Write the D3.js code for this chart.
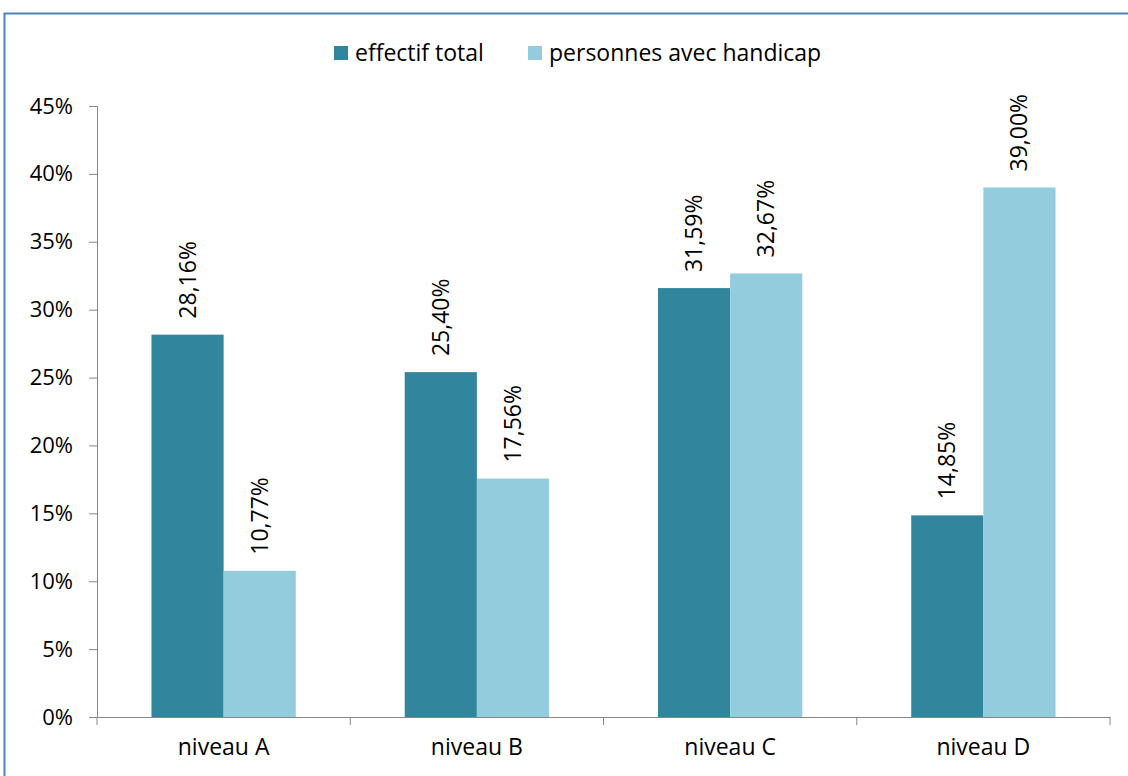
<!DOCTYPE html>
<html lang="fr">
<head>
<meta charset="UTF-8">
<title>Niveaux</title>
<script src="https://cdn.jsdelivr.net/npm/d3@7"></script>
<style>
body{margin:0;background:#fff}
text{font-family:"Open Sans",sans-serif;fill:#000}
</style>
</head>
<body>
<svg width="1128" height="776"></svg>
<script>
var categories=['niveau A','niveau B','niveau C','niveau D']
var seriesNames=['effectif total','personnes avec handicap']
var effectifTotal=[28.16,25.40,31.59,14.85]
var personnesHandicap=[10.77,17.56,32.67,39.00]
var yTicks=[0,5,10,15,20,25,30,35,40,45]
var colors=['#31859c','#93cddd']

var width=1128,height=776,margin={top:106,right:18,bottom:59,left:97}
var svg=d3.select('svg')

// cadre
svg.append('rect').attr('x',4.5).attr('y',13.5).attr('width',1140).attr('height',800)
  .attr('fill','none').attr('stroke','#4f81bd').attr('stroke-width',2)

var data=categories.map((c,i)=>({cat:c,values:[effectifTotal[i],personnesHandicap[i]]}))

var x=d3.scaleBand().domain(categories).range([margin.left,width-margin.right]).padding(0)
var x1=d3.scaleBand().domain([0,1]).range([0,x.bandwidth()]).paddingInner(0).paddingOuter(0.755)
var y=d3.scaleLinear().domain([0,45]).range([height-margin.bottom,margin.top])

// axe Y
var yAxis=g=>g.attr('transform',`translate(${margin.left},0)`)
  .call(d3.axisLeft(y).tickValues(yTicks).tickFormat(d=>d+'%').tickSize(8).tickPadding(16))
svg.append('g').call(yAxis).call(g=>{
  g.selectAll('path,line').attr('stroke','#868686')
  g.selectAll('text').style('font-size','22px')
})

var groups=svg.append('g').selectAll('g').data(data).join('g')
  .attr('transform',d=>`translate(${x(d.cat)},0)`)

groups.selectAll('rect').data(d=>d.values).join('rect')
  .attr('x',(d,i)=>x1(i)).attr('width',x1.bandwidth())
  .attr('y',d=>y(d)).attr('height',d=>y(0)-y(d))
  .attr('fill',(d,i)=>colors[i])

groups.selectAll('text.lbl').data(d=>d.values).join('text').attr('class','lbl')
  .attr('transform',(d,i)=>`translate(${x1(i)+x1.bandwidth()/2+8},${y(d)-16}) rotate(-90)`)
  .style('font-size','23px')
  .text(d=>d.toFixed(2).replace('.',',')+'%')

// axe X
var xAxis=g=>g.attr('transform',`translate(0,${height-margin.bottom})`)
  .call(d3.axisBottom(x).tickSize(0).tickPadding(22).tickSizeOuter(0))
svg.append('g').call(xAxis).call(g=>{
  g.select('.domain').attr('stroke','#868686')
  g.selectAll('text').style('font-size','23px')
})
// graduations entre catégories
svg.append('g').selectAll('line').data(d3.range(categories.length+1)).join('line')
  .attr('x1',i=>margin.left+i*x.bandwidth()).attr('x2',i=>margin.left+i*x.bandwidth())
  .attr('y1',y(0)).attr('y2',y(0)+8).attr('stroke','#868686')

// légende
var legend=svg.append('g').attr('transform','translate(334,53)')
var lx=[0,194]
seriesNames.forEach((n,i)=>{
  legend.append('rect').attr('x',lx[i]).attr('y',-7).attr('width',14).attr('height',14).attr('fill',colors[i])
  legend.append('text').attr('x',lx[i]+21).attr('y',8).style('font-size','23px').text(n)
})
</script>
</body>
</html>
